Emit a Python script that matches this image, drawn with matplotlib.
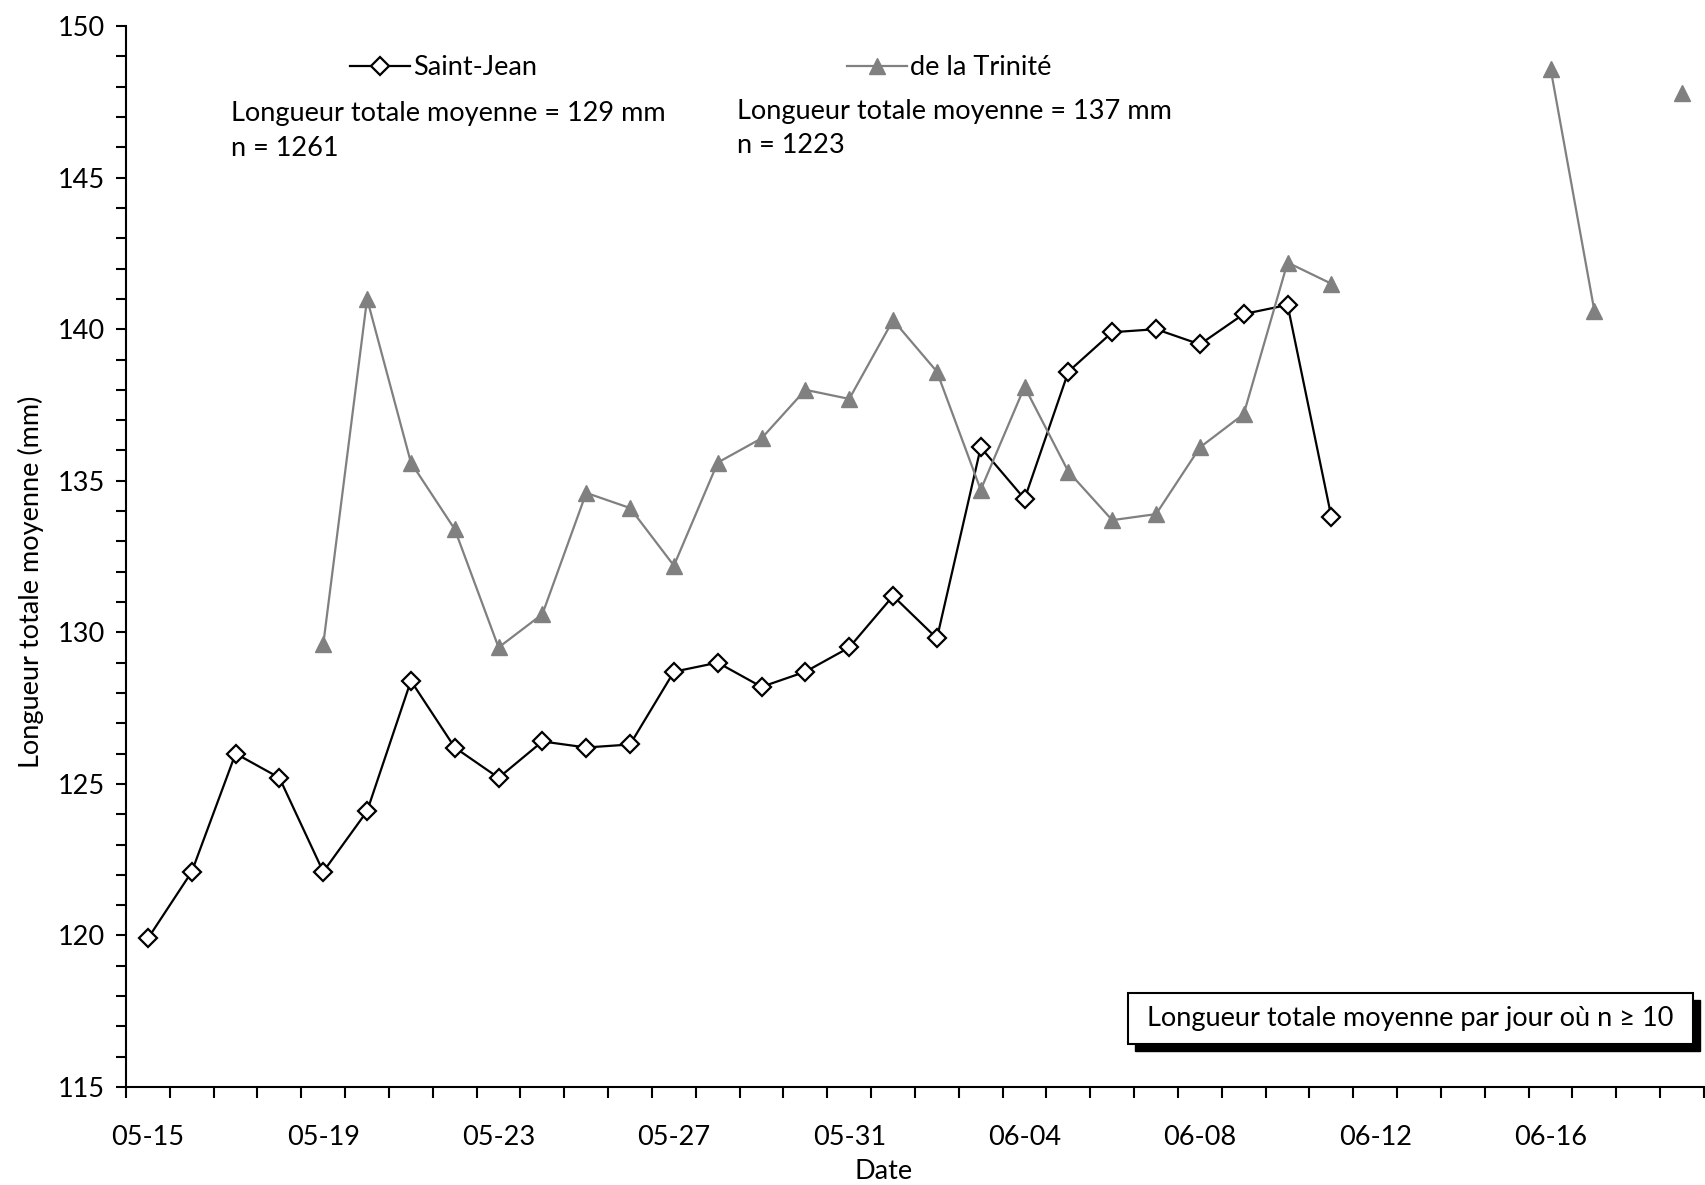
import matplotlib
matplotlib.use("Agg")
import matplotlib.pyplot as plt
import matplotlib.dates as mdates
import matplotlib.ticker as ticker
from matplotlib.patches import Rectangle
import numpy as np
import pandas as pd

plt.rcParams["font.family"] = ["Lato", "DejaVu Sans"]
FS = 19.5

# daily means, 05-15 .. 06-19 (nan = fewer than 10 fish that day)
dates = pd.date_range("2010-05-15", "2010-06-19", freq="D")
saint_jean = [119.9, 122.1, 126.0, 125.2, 122.1, 124.1, 128.4, 126.2, 125.2, 126.4,
              126.2, 126.3, 128.7, 129.0, 128.2, 128.7, 129.5, 131.2, 129.8, 136.1,
              134.4, 138.6, 139.9, 140.0, 139.5, 140.5, 140.8, 133.8,
              np.nan, np.nan, np.nan, np.nan, np.nan, np.nan, np.nan, np.nan]
trinite = [np.nan, np.nan, np.nan, np.nan, 129.6, 141.0, 135.6, 133.4, 129.5, 130.6,
           134.6, 134.1, 132.2, 135.6, 136.4, 138.0, 137.7, 140.3, 138.6, 134.7,
           138.1, 135.3, 133.7, 133.9, 136.1, 137.2, 142.2, 141.5,
           np.nan, np.nan, np.nan, np.nan, 148.6, 140.6, np.nan, 147.8]
label_dates = pd.date_range("2010-05-15", periods=9, freq="4D")

fig = plt.figure(figsize=(17.05, 11.85), dpi=100)
ax = fig.add_axes([0.0739, 0.0827, 0.9255, 0.8953])

l1, = ax.plot(dates, saint_jean, color="black", lw=1.6, marker="D", ms=9,
              mfc="white", mec="black", mew=1.6, label="Saint-Jean")
l2, = ax.plot(dates, trinite, color="#808080", lw=1.6, marker="^", ms=11,
              mfc="#808080", mec="#808080", label="de la Trinité")

half_day = pd.Timedelta(hours=12)
ax.set_xlim(dates[0] - half_day, dates[-1] + half_day)
ax.set_ylim(115, 150)

ax.xaxis.set_major_locator(ticker.FixedLocator(mdates.date2num(label_dates)))
ax.xaxis.set_major_formatter(mdates.DateFormatter("%m-%d"))
ax.xaxis.set_minor_locator(ticker.FixedLocator(
    mdates.date2num(pd.date_range(dates[0] - half_day, dates[-1] + half_day, freq="D"))))
ax.tick_params(axis="x", which="major", length=0, pad=27, labelsize=FS)
ax.tick_params(axis="x", which="minor", length=8, width=1.5, direction="out")

ax.yaxis.set_major_locator(ticker.MultipleLocator(5))
ax.yaxis.set_minor_locator(ticker.MultipleLocator(1))
ax.tick_params(axis="y", which="major", length=7, width=1.5, pad=8, labelsize=FS)
ax.tick_params(axis="y", which="minor", length=7, width=1.5)

for s in ["top", "right"]:
    ax.spines[s].set_visible(False)
for s in ["left", "bottom"]:
    ax.spines[s].set_linewidth(1.5)

ax.set_ylabel("Longueur totale moyenne (mm)", fontsize=FS)
ax.yaxis.set_label_coords(-0.052, 0.476)
ax.set_xlabel("Date", fontsize=FS)
ax.xaxis.set_label_coords(0.48, -0.068)

# legend entries placed separately
leg1 = ax.legend(handles=[l1], loc="center left", bbox_to_anchor=(0.2053, 0.943),
                 bbox_transform=fig.transFigure, frameon=False, borderpad=0,
                 borderaxespad=0, handlelength=2.2, handletextpad=0.12, fontsize=FS)
ax.add_artist(leg1)
ax.legend(handles=[l2], loc="center left", bbox_to_anchor=(0.497, 0.943),
          bbox_transform=fig.transFigure, frameon=False, borderpad=0,
          borderaxespad=0, handlelength=2.2, handletextpad=0.12, fontsize=FS)

fig.text(0.1355, 0.9046, "Longueur totale moyenne = 129 mm", fontsize=FS, va="center")
fig.text(0.1355, 0.875, "n = 1261", fontsize=FS, va="center")
fig.text(0.4324, 0.9063, "Longueur totale moyenne = 137 mm", fontsize=FS, va="center")
fig.text(0.4324, 0.877, "n = 1223", fontsize=FS, va="center")

# note box with shadow
bx0, by0, bw, bh = 0.6616, 0.119, 0.3314, 0.043
dx, dy = 7 / 1705, 7 / 1185
fig.patches.append(Rectangle((bx0 + dx, by0 - dy), bw, bh, transform=fig.transFigure,
                             facecolor="black", edgecolor="black", zorder=3))
fig.patches.append(Rectangle((bx0, by0), bw, bh, transform=fig.transFigure,
                             facecolor="white", edgecolor="black", lw=1.5, zorder=4))
fig.text(bx0 + bw / 2, by0 + bh / 2, "Longueur totale moyenne par jour où n ≥ 10",
         fontsize=FS, ha="center", va="center", zorder=5)

fig.savefig("out.png", dpi=100)
